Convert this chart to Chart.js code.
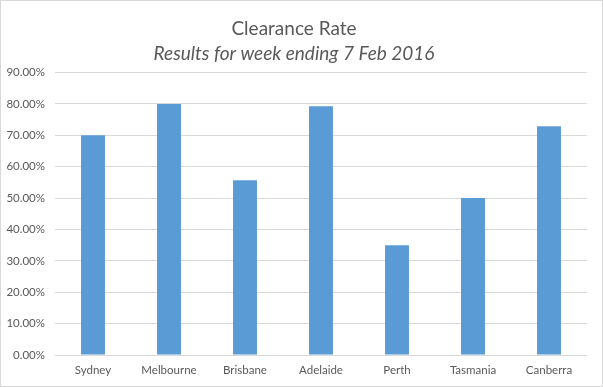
<!DOCTYPE html>
<html>
<head>
<meta charset="utf-8">
<script src="https://cdn.jsdelivr.net/npm/chart.js@4/dist/chart.umd.min.js"></script>
<style>
    html, body { margin: 0; padding: 0; background: #fff; }
    #wrap {
        width: 603px; height: 387px;
        box-sizing: border-box;
        border: 1px solid #d9d9d9;
        position: relative;
    }
</style>
</head>
<body>
<div id="wrap"><canvas id="chart"></canvas></div>
<script>
// week ending 7 Feb 2016
const cities = ["Sydney", "Melbourne", "Brisbane", "Adelaide", "Perth", "Tasmania", "Canberra"];
const clearance = [70.0, 80.0, 55.7, 79.3, 35.0, 50.0, 72.9];
const yTicks = { min: 0, max: 90, step: 10 };

const grey = "#595959";
const fontFamily = "Lato, 'Liberation Sans', sans-serif";

new Chart("chart", {
    type: "bar",
    data: {
        labels: cities,
        datasets: [{
            data: clearance,
            backgroundColor: "#5b9bd5",
            categoryPercentage: 1.0,
            barPercentage: 0.315
        }]
    },
    options: {
        responsive: true,
        maintainAspectRatio: false,
        animation: false,
        layout: { padding: { left: 0, right: 15, top: 0, bottom: 0 } },
        plugins: {
            legend: { display: false },
            tooltip: { enabled: false },
            title: {
                display: true,
                text: "Clearance Rate",
                color: grey,
                font: { family: fontFamily, size: 19, weight: "normal" },
                padding: { top: 16, bottom: 3 }
            },
            subtitle: {
                display: true,
                text: "Results for week ending 7 Feb 2016",
                color: grey,
                font: { family: fontFamily, size: 19, style: "italic" },
                padding: { top: 0, bottom: 7 }
            }
        },
        scales: {
            x: {
                grid: { display: false, drawTicks: false },
                border: { display: false },
                ticks: { color: grey, font: { family: fontFamily, size: 11.5 }, padding: 8 },
                afterFit: s => { s.height = 31; }
            },
            y: {
                min: yTicks.min,
                max: yTicks.max,
                grid: { color: "#d9d9d9", drawTicks: false },
                border: { display: false },
                ticks: {
                    stepSize: yTicks.step,
                    color: grey,
                    font: { family: fontFamily, size: 11.5 },
                    padding: 10,
                    callback: v => v.toFixed(2) + "%"
                },
                afterFit: s => { s.width = 54; }
            }
        }
    }
});
</script>
</body>
</html>
